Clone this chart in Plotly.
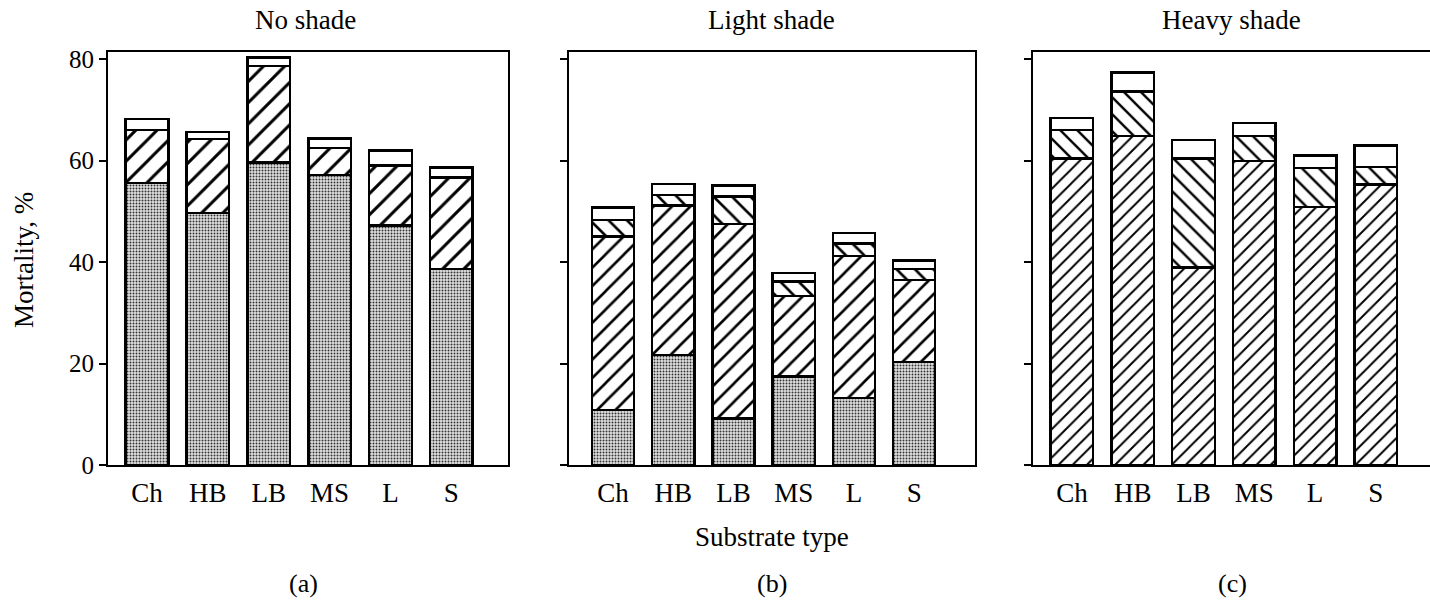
import plotly.graph_objects as go

categories = ["Ch", "HB", "LB", "MS", "L", "S"]

# Panel (a) No shade: segment heights (bottom -> top)
a_dotted = [55.6, 49.7, 59.6, 57.2, 47.2, 38.6]
a_fwd = [10.4, 14.6, 19.0, 5.3, 11.8, 18.1]
a_white = [2.2, 1.3, 1.7, 1.9, 3.0, 1.9]

# Panel (b) Light shade
b_dotted = [10.8, 21.7, 9.2, 17.4, 13.2, 20.3]
b_fwd = [34.2, 29.4, 38.3, 15.9, 28.0, 16.2]
b_back = [3.3, 2.1, 5.4, 2.9, 2.5, 2.1]
b_white = [2.5, 2.2, 2.2, 1.6, 2.0, 1.7]

# Panel (c) Heavy shade
c_fwd = [60.4, 64.8, 38.9, 59.9, 50.9, 55.3]
c_back = [5.6, 8.8, 21.5, 4.9, 7.6, 3.4]
c_white = [2.4, 3.8, 3.7, 2.6, 2.5, 4.3]

panel_titles = ["No shade", "Light shade", "Heavy shade"]
panel_letters = ["(a)", "(b)", "(c)"]
y_ticks = [0, 20, 40, 60, 80]

W, H = 1430, 602
FONT = "Liberation Serif"
LINE = dict(color="black", width=2.5)
BW = 0.7


def pat(kind, size):
    if kind == "dot":
        return dict(shape=".", fgcolor="#333", bgcolor="#e2e2e2", size=3, solidity=0.35, fgopacity=1)
    if kind == "fwd":
        return dict(shape="/", fgcolor="black", bgcolor="white", size=size, solidity=0.2, fgopacity=1)
    if kind == "back":
        return dict(shape="\\", fgcolor="black", bgcolor="white", size=size, solidity=0.2, fgopacity=1)
    return None


def bar(vals, kind, axis, size=12):
    marker = dict(color="white", line=LINE)
    p = pat(kind, size)
    if p:
        marker["pattern"] = p
    return go.Bar(x=categories, y=vals, width=BW, marker=marker,
                  xaxis="x" + axis, yaxis="y" + axis, showlegend=False,
                  hoverinfo="skip")


fig = go.Figure()
fig.add_trace(bar(a_dotted, "dot", ""))
fig.add_trace(bar(a_fwd, "fwd", "", 15))
fig.add_trace(bar(a_white, "white", ""))
fig.add_trace(bar(b_dotted, "dot", "2"))
fig.add_trace(bar(b_fwd, "fwd", "2", 13))
fig.add_trace(bar(b_back, "back", "2", 13))
fig.add_trace(bar(b_white, "white", "2"))
fig.add_trace(bar(c_fwd, "fwd", "3", 10))
fig.add_trace(bar(c_back, "back", "3", 12))
fig.add_trace(bar(c_white, "white", "3"))

# pixel layout
panels_px = [(108, 508, [-0.64, 5.93]), (569, 975, [-0.73, 6.01]), (1033, 1430, [-0.64, 5.89])]
y_top_px, y_bot_px = 52, 465
ydom = [1 - y_bot_px / H, 1 - y_top_px / H]
yrange = [0, 81.4]

layout = dict(
    width=W, height=H, margin=dict(l=0, r=0, t=0, b=0, autoexpand=False),
    paper_bgcolor="white", plot_bgcolor="white",
    barmode="stack", bargap=0.3,
    font=dict(family=FONT, size=24, color="black"),
)
for i, (x0, x1, xr) in enumerate(panels_px):
    s = "" if i == 0 else str(i + 1)
    layout["xaxis" + s] = dict(
        domain=[x0 / W, x1 / W], range=xr, type="category",
        showline=True, linecolor="black", linewidth=2, mirror=True,
        ticks="", showgrid=False, zeroline=False,
        tickfont=dict(family=FONT, size=27, color="black"),
        anchor="y" + s, fixedrange=True, ticklabelstandoff=3, automargin=False,
    )
    layout["yaxis" + s] = dict(
        domain=ydom, range=yrange, anchor="x" + s,
        showline=True, linecolor="black", linewidth=2, mirror=(i < 2),
        ticks="outside", ticklen=7, tickwidth=2, tickcolor="black",
        tickvals=y_ticks, showticklabels=(i == 0),
        ticktext=[str(v) for v in y_ticks], tickmode="array",
        showgrid=False, zeroline=False, automargin=False,
        tickfont=dict(family=FONT, size=25, color="black"),
        fixedrange=True,
    )
fig.update_layout(**layout)

title_x = [305, 772, 1231]
ann = []
for i in range(3):
    ann.append(dict(text=panel_titles[i], x=title_x[i] / W, y=1 - 20 / H, xref="paper", yref="paper",
                    showarrow=False, font=dict(family=FONT, size=27), xanchor="center", yanchor="middle"))
    ann.append(dict(text=panel_letters[i], x=[303, 772, 1232][i] / W, y=1 - 583 / H, xref="paper", yref="paper",
                    showarrow=False, font=dict(family=FONT, size=26), xanchor="center", yanchor="middle"))
ann.append(dict(text="Substrate type", x=772 / W, y=1 - 537 / H, xref="paper", yref="paper",
                showarrow=False, font=dict(family=FONT, size=27), xanchor="center", yanchor="middle"))
ann.append(dict(text="Mortality, %", x=24 / W, y=1 - 260 / H, xref="paper", yref="paper", textangle=-90,
                showarrow=False, font=dict(family=FONT, size=27), xanchor="center", yanchor="middle"))
fig.update_layout(annotations=ann)

fig.write_html("out.html")
